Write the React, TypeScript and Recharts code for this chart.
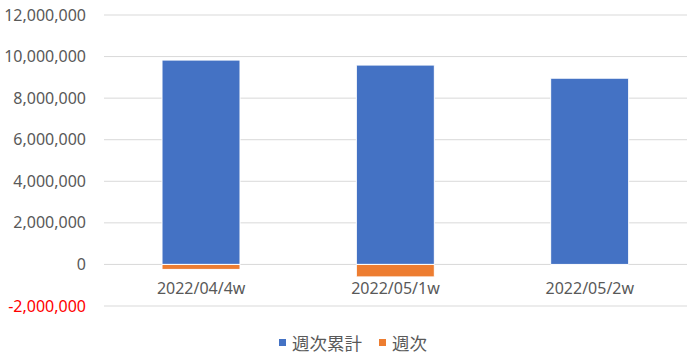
import { BarChart, Bar, XAxis, YAxis, CartesianGrid, Legend } from 'recharts';

const weeks = ['2022/04/4w', '2022/05/1w', '2022/05/2w'];
const cumulative = [9830000, 9590000, 8960000];
const weekly = [-240000, -600000, 0];
const yTicks = [-2000000, 0, 2000000, 4000000, 6000000, 8000000, 10000000, 12000000];

const SERIES = [
  { key: 'cumulative', name: '週次累計', color: '#4472C4' },
  { key: 'weekly', name: '週次', color: '#ED7D31' },
];

const data = weeks.map((w, i) => ({ week: w, cumulative: cumulative[i], weekly: weekly[i] }));

const FONT = '"Noto Sans", "Noto Sans CJK JP", sans-serif';
const TEXT = '#595959';

function YTick({ x, y, payload }: any) {
  const v = payload.value as number;
  return (
    <text x={x - 16} y={y} dy="0.35em" textAnchor="end" fontSize={16} fontFamily={FONT} fill={v < 0 ? '#FF0000' : TEXT}>
      {v.toLocaleString('en-US')}
    </text>
  );
}

function XTick({ x, y, payload }: any) {
  return (
    <text x={x} y={y - 26} dy="0.35em" textAnchor="middle" fontSize={16} fontFamily={FONT} fill={TEXT}>
      {payload.value}
    </text>
  );
}

function LegendContent() {
  return (
    <div style={{ display: 'flex', justifyContent: 'center', alignItems: 'center', fontFamily: FONT, fontSize: 17.5, color: TEXT, height: 24, paddingTop: 4, paddingLeft: 19 }}>
      {SERIES.map((s, i) => (
        <div key={s.key} style={{ display: 'flex', alignItems: 'center', marginLeft: i ? 17 : 0 }}>
          <span style={{ width: 7, height: 7, background: s.color, marginRight: 6, display: 'inline-block' }} />
          <span>{s.name}</span>
        </div>
      ))}
    </div>
  );
}

export default function App() {
  return (
    <div style={{ position: 'absolute', left: 0, top: 0, width: 690, height: 357, background: '#fff' }}>
      <BarChart
        width={690}
        height={357}
        data={data}
        margin={{ top: 15, right: 3, left: 0, bottom: 3 }}
        stackOffset="sign"
        barSize={78}
      >
        <CartesianGrid horizontal vertical={false} stroke="#D9D9D9" strokeWidth={1} />
        <XAxis dataKey="week" axisLine={false} tickLine={false} tick={<XTick />} height={20} interval={0} />
        <YAxis
          domain={[-2000000, 12000000]}
          ticks={yTicks}
          axisLine={false}
          tickLine={false}
          tickSize={0}
          width={104}
          tick={<YTick />}
          interval={0}
        />
        <Legend verticalAlign="bottom" content={<LegendContent />} />
        {SERIES.map((s) => (
          <Bar key={s.key} dataKey={s.key} name={s.name} stackId="a" fill={s.color} stroke="#fff" strokeWidth={1} isAnimationActive={false} />
        ))}
      </BarChart>
    </div>
  );
}
